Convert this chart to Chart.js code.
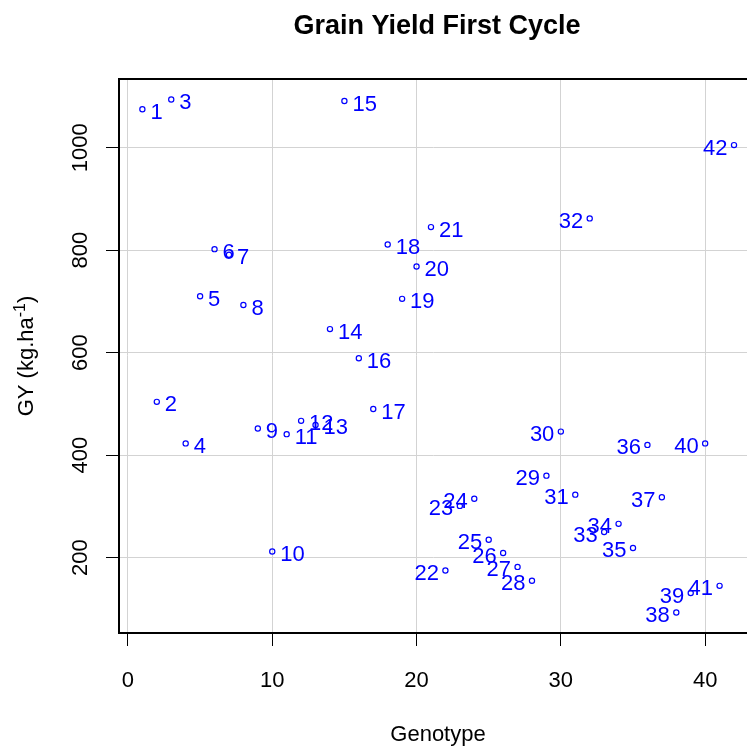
<!DOCTYPE html>
<html>
<head>
<meta charset="utf-8">
<script src="https://cdn.jsdelivr.net/npm/chart.js@4/dist/chart.umd.min.js"></script>
<style>
  html, body { margin: 0; padding: 0; background: #fff; }
  #wrap { width: 747px; height: 746px; }
</style>
</head>
<body>
<div id="wrap"><canvas id="gy"></canvas></div>
<script>
// Genotype number and grain yield (kg/ha), first cycle
const genotype = [
    1, 2, 3, 4, 5, 6, 7, 8, 9, 10, 11, 12, 13, 14,
    15, 16, 17, 18, 19, 20, 21, 22, 23, 24, 25, 26, 27, 28,
    29, 30, 31, 32, 33, 34, 35, 36, 37, 38, 39, 40, 41, 42
];
const grainYield = [
    1075, 504, 1094, 423, 710, 802, 791, 693, 452, 212, 441, 467, 459, 646,
    1091, 589, 490, 811, 705, 768, 845, 175, 301, 315, 235, 209, 182, 155,
    360, 446, 323, 862, 250, 266, 219, 420, 318, 93, 131, 423, 145, 1005
];

const xTicks = [0, 10, 20, 30, 40];
const yTicks = [200, 400, 600, 800, 1000];

// labels go to the left of the point from this genotype on
const labelLeftFrom = 22;

const BLUE = '#0000ff';
const FONT = '"Liberation Sans", Arial, Helvetica, sans-serif';

/**
 * Draws the R-style decorations: box top, tick labels, titles, point labels
 */
const baseDecor = {
    id: 'baseDecor',
    afterDraw(chart) {
        const { ctx, chartArea } = chart;
        const xs = chart.scales.x;
        const ys = chart.scales.y;

        ctx.save();

        // top side of the box
        ctx.strokeStyle = '#000';
        ctx.lineWidth = 2;
        ctx.beginPath();
        ctx.moveTo(chartArea.left - 1, chartArea.top);
        ctx.lineTo(chartArea.right, chartArea.top);
        ctx.stroke();

        ctx.fillStyle = '#000';
        ctx.font = '22px ' + FONT;

        // x tick labels
        ctx.textAlign = 'center';
        ctx.textBaseline = 'alphabetic';
        xTicks.forEach(v => {
            ctx.fillText(String(v), xs.getPixelForValue(v), 687);
        });

        // y tick labels, rotated like R's default las = 0
        yTicks.forEach(v => {
            ctx.save();
            ctx.translate(87, ys.getPixelForValue(v));
            ctx.rotate(-Math.PI / 2);
            ctx.fillText(String(v), 0, 0);
            ctx.restore();
        });

        // x axis title
        ctx.fillText('Genotype', 438, 741);

        // y axis title with superscript
        ctx.save();
        ctx.translate(33, (chartArea.top + chartArea.bottom) / 2);
        ctx.rotate(-Math.PI / 2);
        const partA = 'GY (kg.ha';
        const partSup = '-1';
        const partB = ')';
        ctx.font = '22px ' + FONT;
        const wA = ctx.measureText(partA).width;
        const wB = ctx.measureText(partB).width;
        ctx.font = '16px ' + FONT;
        const wSup = ctx.measureText(partSup).width;
        let x0 = -(wA + wSup + wB) / 2;
        ctx.textAlign = 'left';
        ctx.font = '22px ' + FONT;
        ctx.fillText(partA, x0, 0);
        ctx.font = '16px ' + FONT;
        ctx.fillText(partSup, x0 + wA, -8);
        ctx.font = '22px ' + FONT;
        ctx.fillText(partB, x0 + wA + wSup, 0);
        ctx.restore();

        // main title
        ctx.textAlign = 'center';
        ctx.font = 'bold 27px ' + FONT;
        ctx.fillText('Grain Yield First Cycle', 437, 34);

        // point labels
        ctx.fillStyle = BLUE;
        ctx.font = '22px ' + FONT;
        genotype.forEach((g, i) => {
            const px = xs.getPixelForValue(g);
            const py = ys.getPixelForValue(grainYield[i]);
            if (g >= labelLeftFrom) {
                ctx.textAlign = 'right';
                ctx.fillText(String(g), px - 6.5, py + 9.5);
            } else {
                ctx.textAlign = 'left';
                ctx.fillText(String(g), px + 8, py + 9.5);
            }
        });

        ctx.restore();
    }
};

const points = genotype.map((g, i) => ({ x: g, y: grainYield[i] }));

new Chart(document.getElementById('gy').getContext('2d'), {
    type: 'scatter',
    data: {
        datasets: [{
            label: 'GY',
            data: points,
            pointRadius: 2.6,
            pointBorderWidth: 1.2,
            pointBorderColor: BLUE,
            pointBackgroundColor: 'rgba(0,0,0,0)',
            pointHoverRadius: 2.6
        }]
    },
    options: {
        responsive: true,
        maintainAspectRatio: false,
        animation: false,
        events: [],
        layout: {
            autoPadding: false, // plot region runs off the right edge like the original
            padding: { top: 79, right: 0, bottom: 0, left: 0 }
        },
        plugins: {
            legend: { display: false },
            tooltip: { enabled: false },
            title: { display: false }
        },
        scales: {
            x: {
                type: 'linear',
                min: -0.62,
                max: 42.9,
                afterBuildTicks: s => { s.ticks = xTicks.map(v => ({ value: v })); },
                afterFit: s => { s.height = 113; },
                ticks: { display: false },
                grid: {
                    color: '#d3d3d3',
                    lineWidth: 1,
                    drawTicks: true,
                    tickLength: 13,
                    tickColor: '#000'
                },
                border: { display: true, color: '#000', width: 2 }
            },
            y: {
                type: 'linear',
                min: 53,
                max: 1134,
                afterBuildTicks: s => { s.ticks = yTicks.map(v => ({ value: v })); },
                afterFit: s => { s.width = 119; },
                ticks: { display: false },
                grid: {
                    color: '#d3d3d3',
                    lineWidth: 1,
                    drawTicks: true,
                    tickLength: 13,
                    tickColor: '#000'
                },
                border: { display: true, color: '#000', width: 2 }
            }
        }
    },
    plugins: [baseDecor]
});
</script>
</body>
</html>
